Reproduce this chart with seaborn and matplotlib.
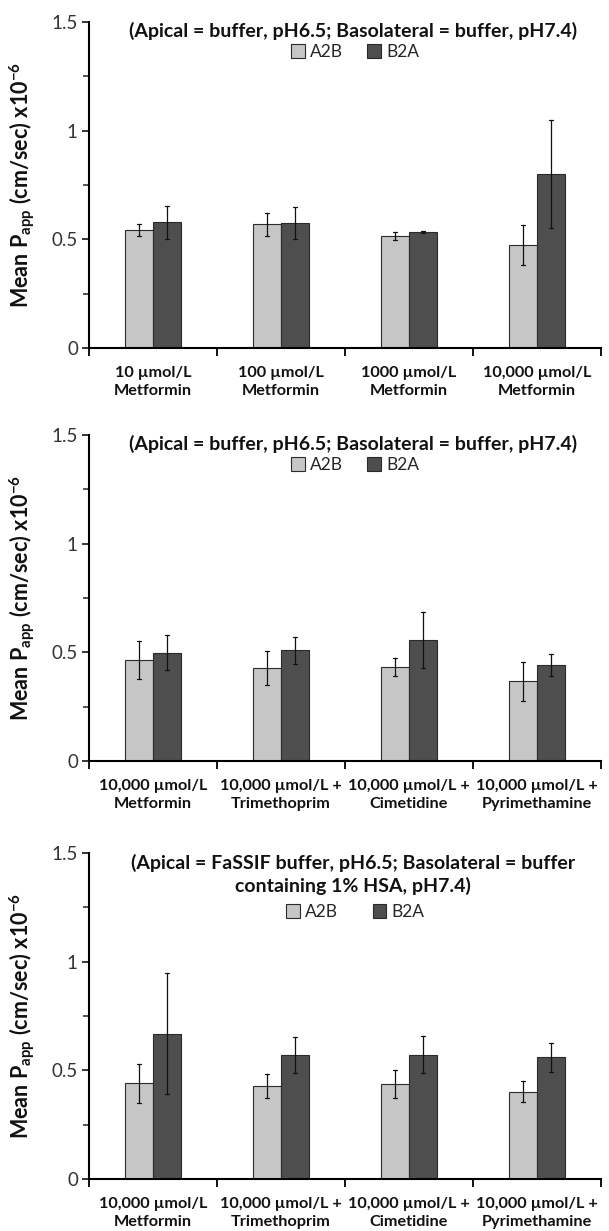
import matplotlib
matplotlib.use("Agg")
import matplotlib.pyplot as plt
import seaborn as sns
import pandas as pd
from matplotlib.patches import Patch
from matplotlib.ticker import FixedLocator, FixedFormatter, NullFormatter, MultipleLocator

# ---------------- data ----------------
directions = ["A2B", "B2A"]

panel1_categories = ["10 µmol/L\nMetformin", "100 µmol/L\nMetformin",
                     "1000 µmol/L\nMetformin", "10,000 µmol/L\nMetformin"]
panel1_a2b = [0.542, 0.569, 0.515, 0.475]
panel1_a2b_err = [0.028, 0.053, 0.019, 0.092]
panel1_b2a = [0.578, 0.575, 0.534, 0.800]
panel1_b2a_err = [0.075, 0.072, 0.004, 0.247]

panel2_categories = ["10,000 µmol/L\nMetformin", "10,000 µmol/L +\nTrimethoprim",
                     "10,000 µmol/L +\nCimetidine", "10,000 µmol/L +\nPyrimethamine"]
panel2_a2b = [0.465, 0.429, 0.433, 0.367]
panel2_a2b_err = [0.089, 0.079, 0.041, 0.090]
panel2_b2a = [0.498, 0.509, 0.557, 0.442]
panel2_b2a_err = [0.080, 0.062, 0.127, 0.049]

panel3_categories = ["10,000 µmol/L\nMetformin", "10,000 µmol/L +\nTrimethoprim",
                     "10,000 µmol/L +\nCimetidine", "10,000 µmol/L +\nPyrimethamine"]
panel3_a2b = [0.441, 0.429, 0.438, 0.401]
panel3_a2b_err = [0.090, 0.055, 0.063, 0.049]
panel3_b2a = [0.669, 0.569, 0.572, 0.560]
panel3_b2a_err = [0.277, 0.083, 0.086, 0.067]

titles = [
    "(Apical = buffer, pH6.5; Basolateral = buffer, pH7.4)",
    "(Apical = buffer, pH6.5; Basolateral = buffer, pH7.4)",
    "(Apical = FaSSIF buffer, pH6.5; Basolateral = buffer\ncontaining 1% HSA, pH7.4)",
]
yticks = [0, 0.5, 1, 1.5]
ytick_labels = ["0", "0.5", "1", "1.5"]
ylabel = r"Mean P$_{\mathbf{app}}$ (cm/sec) x10$^{\mathbf{-6}}$"

# ---------------- style ----------------
sns.set_style("white")
plt.rcParams["font.family"] = ["Lato", "DejaVu Sans"]
plt.rcParams["mathtext.fontset"] = "custom"
plt.rcParams["mathtext.rm"] = "Lato"
plt.rcParams["mathtext.bf"] = "Lato:bold"
plt.rcParams["mathtext.it"] = "Lato:italic"

colors = {"A2B": "#c6c6c6", "B2A": "#4e4e4e"}
edge = "#2a2a2a"


def long_table(cats, a, ae, b, be):
    rows = []
    for c, m, e in zip(cats, a, ae):
        rows += [(c, "A2B", m - e), (c, "A2B", m + e)]
    for c, m, e in zip(cats, b, be):
        rows += [(c, "B2A", m - e), (c, "B2A", m + e)]
    return pd.DataFrame(rows, columns=["category", "direction", "value"])


panels = [
    (panel1_categories, panel1_a2b, panel1_a2b_err, panel1_b2a, panel1_b2a_err),
    (panel2_categories, panel2_a2b, panel2_a2b_err, panel2_b2a, panel2_b2a_err),
    (panel3_categories, panel3_a2b, panel3_a2b_err, panel3_b2a, panel3_b2a_err),
]

W, H = 609, 1231
fig = plt.figure(figsize=(W / 100, H / 100), dpi=100)
left, right = 89, 601
tops = [22, 435, 853]
ph = 326

for i, (cats, a, ae, b, be) in enumerate(panels):
    top = tops[i]
    ax = fig.add_axes([left / W, 1 - (top + ph) / H, (right - left) / W, ph / H])
    df = long_table(cats, a, ae, b, be)
    sns.barplot(data=df, x="category", y="value", hue="direction",
                order=cats, hue_order=directions, palette=colors,
                saturation=1, width=0.44, estimator="mean",
                errorbar=lambda v: (v.min(), v.max()),
                capsize=0.05, err_kws={"color": "#111111", "linewidth": 0.9},
                edgecolor=edge, linewidth=0.8, legend=False, ax=ax)

    ax.set_xlim(-0.5, len(cats) - 0.5)
    ax.set_ylim(0, 1.5)
    ax.set_xlabel("")
    ax.set_ylabel(ylabel, fontsize=15.5, fontweight="bold", color="#111111")
    ax.yaxis.set_label_coords(-0.100, 0.5)

    # x: boundary ticks, labels centered on categories
    ax.xaxis.set_major_locator(FixedLocator([k - 0.5 for k in range(len(cats) + 1)]))
    ax.xaxis.set_major_formatter(NullFormatter())
    ax.xaxis.set_minor_locator(FixedLocator(list(range(len(cats)))))
    ax.xaxis.set_minor_formatter(FixedFormatter(cats))
    ax.tick_params(axis="x", which="major", direction="out", length=6, width=1.3,
                   color="black", bottom=True)
    ax.tick_params(axis="x", which="minor", length=0, pad=13, labelsize=11.7,
                   labelcolor="#111111", bottom=True)
    for t in ax.xaxis.get_minorticklabels():
        t.set_fontweight("bold")
        t.set_linespacing(1.4)

    # y ticks
    ax.yaxis.set_major_locator(FixedLocator(yticks))
    ax.yaxis.set_major_formatter(FixedFormatter(ytick_labels))
    ax.yaxis.set_minor_locator(MultipleLocator(0.25))
    ax.tick_params(axis="y", which="major", direction="out", length=5, width=1.3,
                   labelsize=13.5, labelcolor="#333333", left=True, pad=3)
    ax.tick_params(axis="y", which="minor", direction="out", length=4, width=1.1,
                   left=True)

    for s in ["top", "right"]:
        ax.spines[s].set_visible(False)
    for s in ["left", "bottom"]:
        ax.spines[s].set_linewidth(1.5)
        ax.spines[s].set_color("black")

    # title inside axes
    if "\n" in titles[i]:
        ty, ly, cs = 0.935, 0.819, 2.0
    else:
        ty, ly, cs = 0.973, 0.908, 1.4
    ax.text(0.515, ty, titles[i], transform=ax.transAxes, ha="center", va="center",
            fontsize=14, fontweight="bold", color="#111111", linespacing=1.3)

    handles = [Patch(facecolor=colors[d], edgecolor=edge, linewidth=0.8) for d in directions]
    ax.legend(handles, directions, loc="center", bbox_to_anchor=(0.52, ly),
              ncol=2, frameon=False, fontsize=12.5, handlelength=0.8, handleheight=0.8,
              handletextpad=0.3, columnspacing=cs, borderaxespad=0)

fig.savefig("out.png", dpi=100)
